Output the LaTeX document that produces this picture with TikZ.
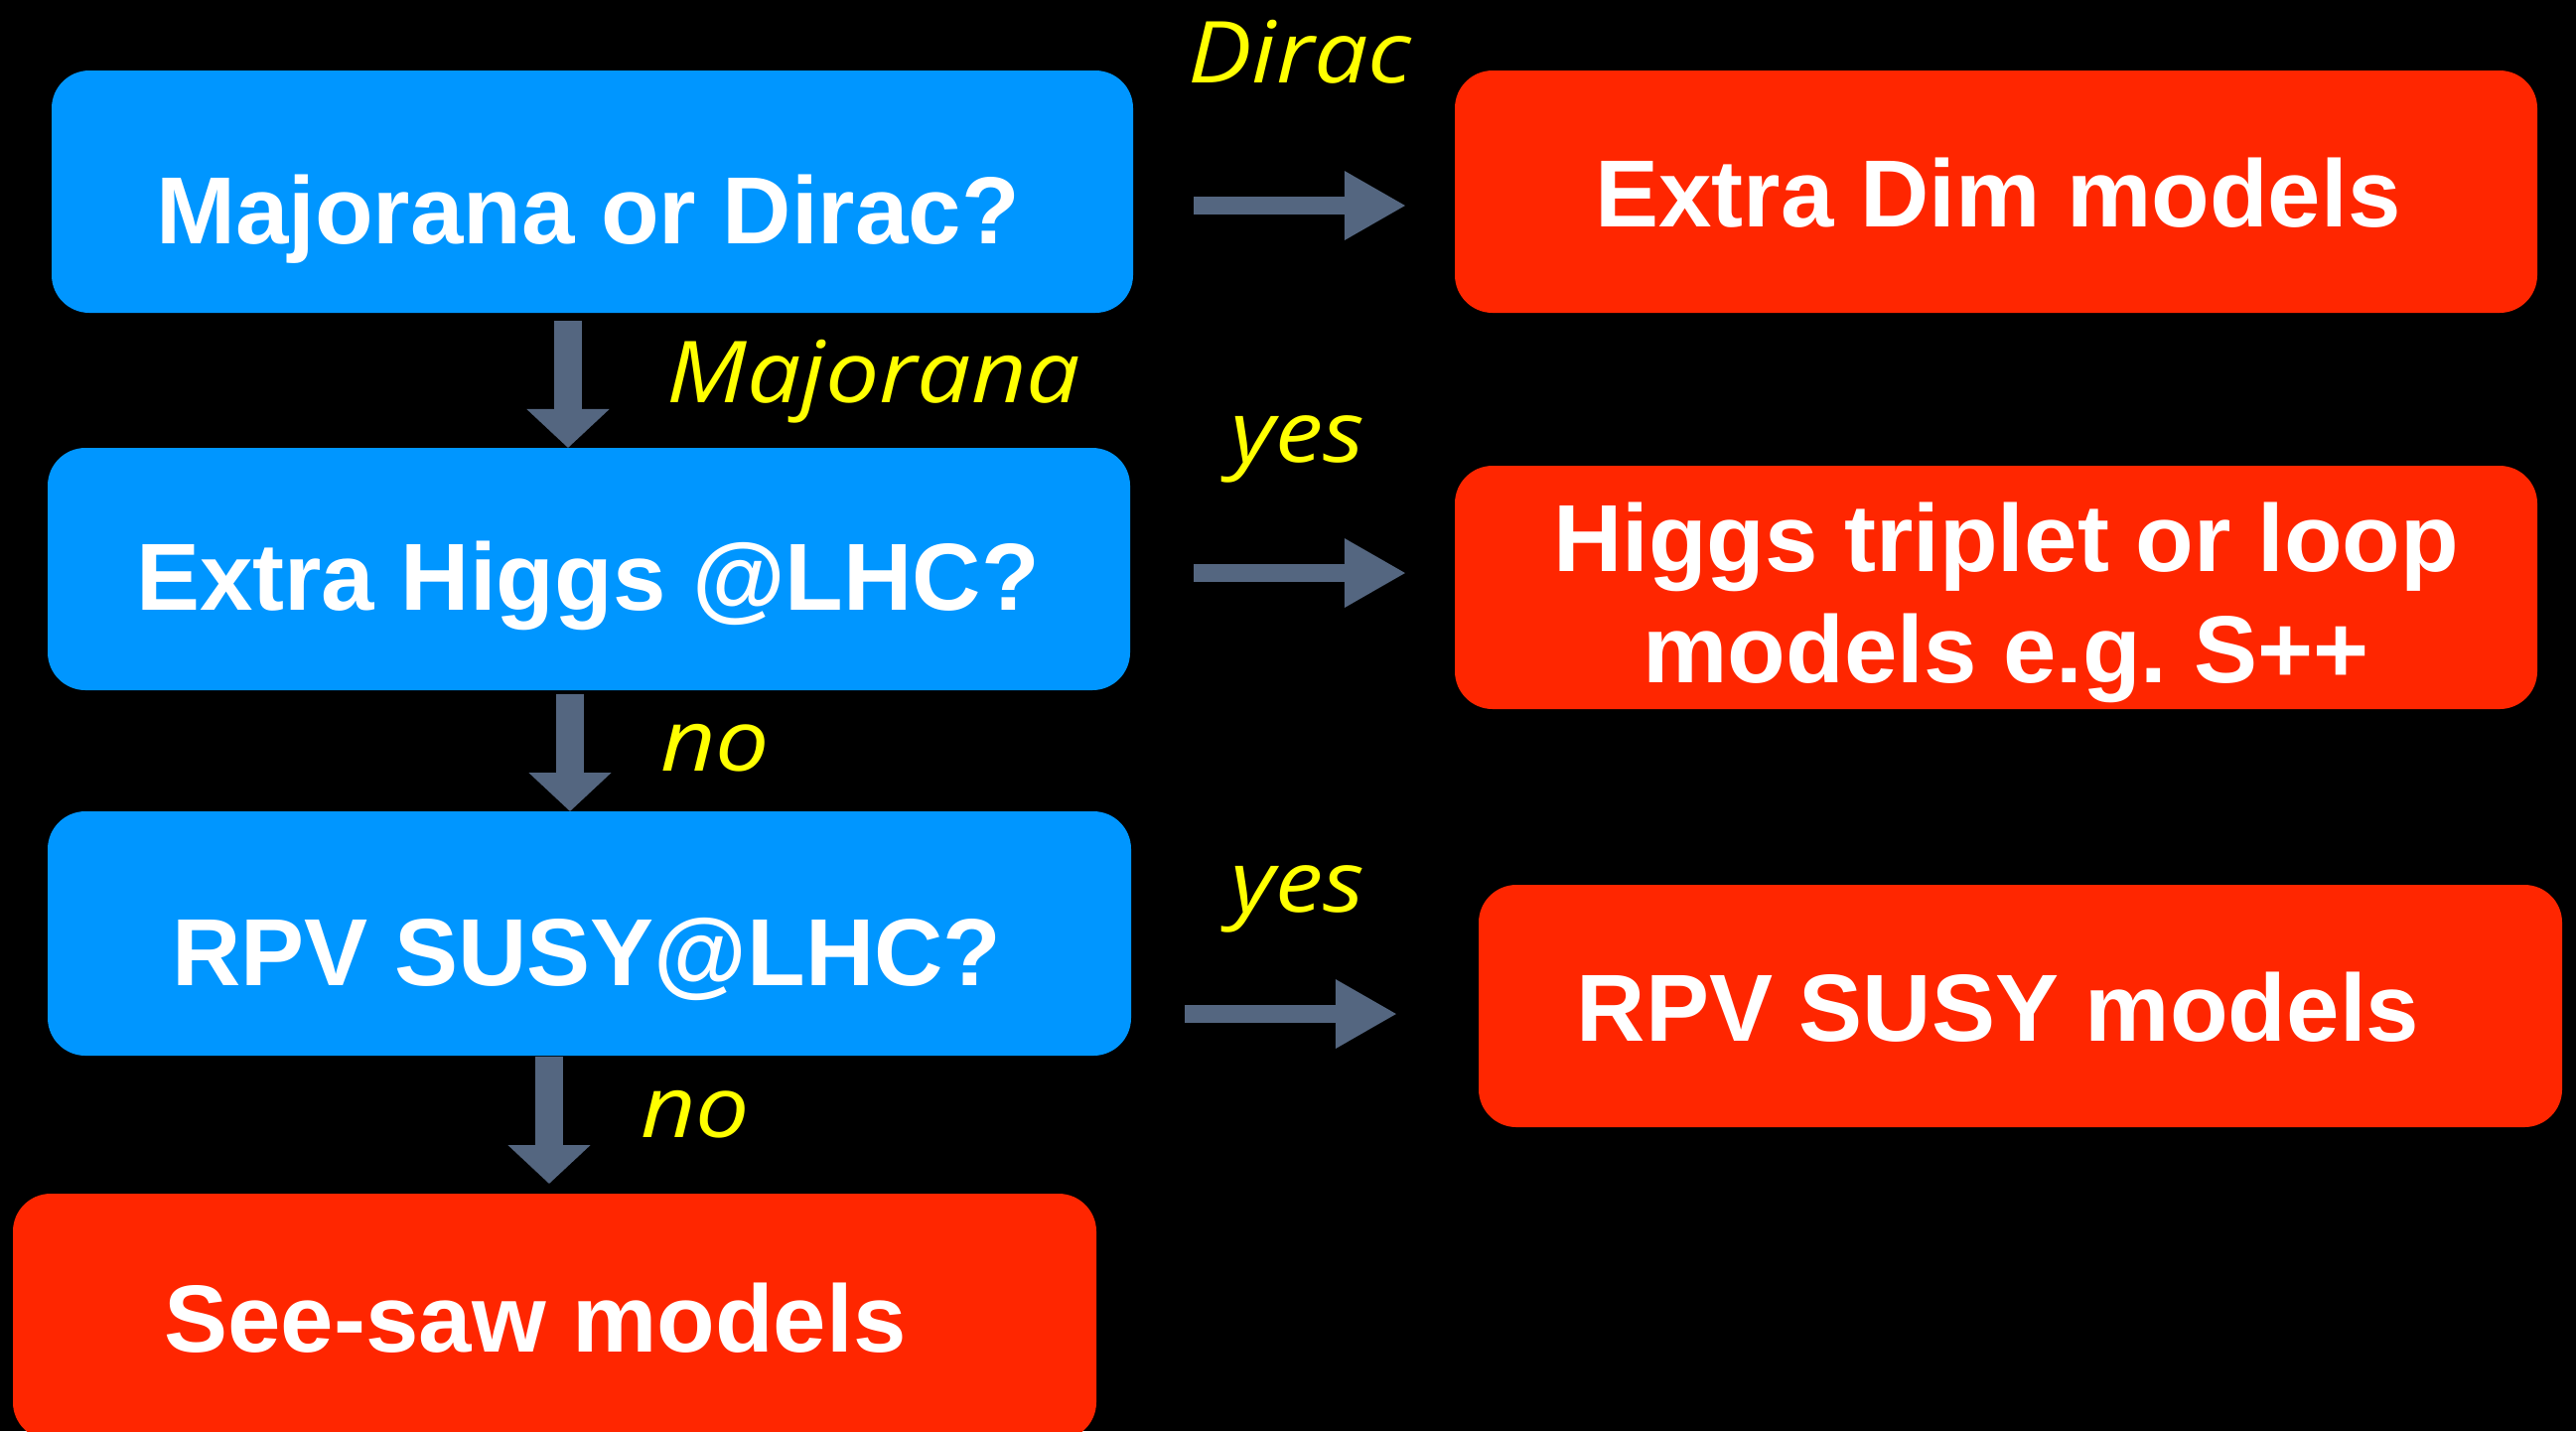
\documentclass[tikz,border=0pt]{standalone}
\usepackage{fontspec}
\setmainfont{Liberation Sans}
\newfontfamily\handfont{Open Sans}[FakeStretch=1.12]
\usetikzlibrary{arrows.meta,fit}

\definecolor{qblue}{RGB}{0,150,255}
\definecolor{mred}{RGB}{255,38,0}
\definecolor{arrowgray}{RGB}{84,102,128}
\definecolor{hand}{RGB}{255,255,0}

\frenchspacing

\begin{document}
\begin{tikzpicture}[x=0.01cm,y=-0.01cm,
  box/.style={rounded corners=0.38cm, inner sep=0pt, outer sep=0pt, draw=none},
  question/.style={box, fill=qblue},
  answer/.style={box, fill=mred},
  boxtext/.style={text=white, font=\fontsize{27.3}{33}\selectfont\bfseries, anchor=base, inner sep=0pt},
  note/.style={text=hand, font=\handfont\itshape\fontsize{24.5}{29}\selectfont, anchor=base, inner sep=0pt},
  rightarrow/.style={draw=arrowgray, line width=0.18cm, -{Triangle[length=0.62cm, width=0.65cm]}},
  downarrow/.style={draw=arrowgray, line width=0.28cm, -{Triangle[length=0.39cm, width=0.81cm]}},
]
% page and black background
\useasboundingbox (0,0) rectangle (2594,1441);
\fill[black] (0,0) rectangle (2594,1441);
\clip (0,0) rectangle (2594,1441);

% question boxes (left column)
\node[question, fit={(52,71) (1141,315)}] (q1) {};
\node[question, fit={(48,451) (1138,695)}] (q2) {};
\node[question, fit={(48,817) (1139,1063)}] (q3) {};
\node[answer, fit={(13,1202) (1104,1450)}] (seesaw) {};

% answer boxes (right column)
\node[answer, fit={(1465,71) (2555,315)}] (extradim) {};
\node[answer, fit={(1465,469) (2555,714)}] (triplet) {};
\node[answer, fit={(1489,891) (2580,1135)}] (rpvmod) {};

% box texts
\node[boxtext] (q1t) at (592,245) {Majorana or Dirac?};
\node[boxtext] (q2t) at (592,614) {Extra Higgs @LHC?};
\node[boxtext] (q3t) at (591,992) {RPV SUSY@LHC?};
\node[boxtext] (seesawt) at (539,1361) {See-saw models};
\node[boxtext] (extradimt) at (2012,228) {Extra Dim models};
\node[boxtext] (tripleta) at (2020,575) {Higgs triplet or loop};
\node[boxtext] (tripletb) at (2020,687) {models e.g. S++};
\node[boxtext] (rpvmodt) at (2012,1048) {RPV SUSY models};

% arrow end points
\coordinate (r1s) at (1202,207);
\coordinate (r1e) at (1416,207);
\coordinate (r2s) at (1202,577);
\coordinate (r2e) at (1416,577);
\coordinate (r3s) at (1193,1021);
\coordinate (r3e) at (1407,1021);
\coordinate (d1s) at (572,323);
\coordinate (d2s) at (574,699);
\coordinate (d3s) at (553,1064);
\coordinate (d3e) at (553,1192);

% arrows
\draw[rightarrow] (r1s) -- (r1e);
\draw[rightarrow] (r2s) -- (r2e);
\draw[rightarrow] (r3s) -- (r3e);
\draw[downarrow] (d1s) -- (d1s |- q2.north);
\draw[downarrow] (d2s) -- (d2s |- q3.north);
\draw[downarrow] (d3s) -- (d3e);

% handwritten answers
\node[note] (ldirac) at (1309,83) {Dirac};
\node[note] (lmaj) at (880,405) {Majorana};
\node[note] (lyes1) at (1307,465) {yes};
\node[note] (lno1) at (720,776) {no};
\node[note] (lyes2) at (1307,918) {yes};
\node[note] (lno2) at (700,1145) {no};
\end{tikzpicture}
\end{document}
